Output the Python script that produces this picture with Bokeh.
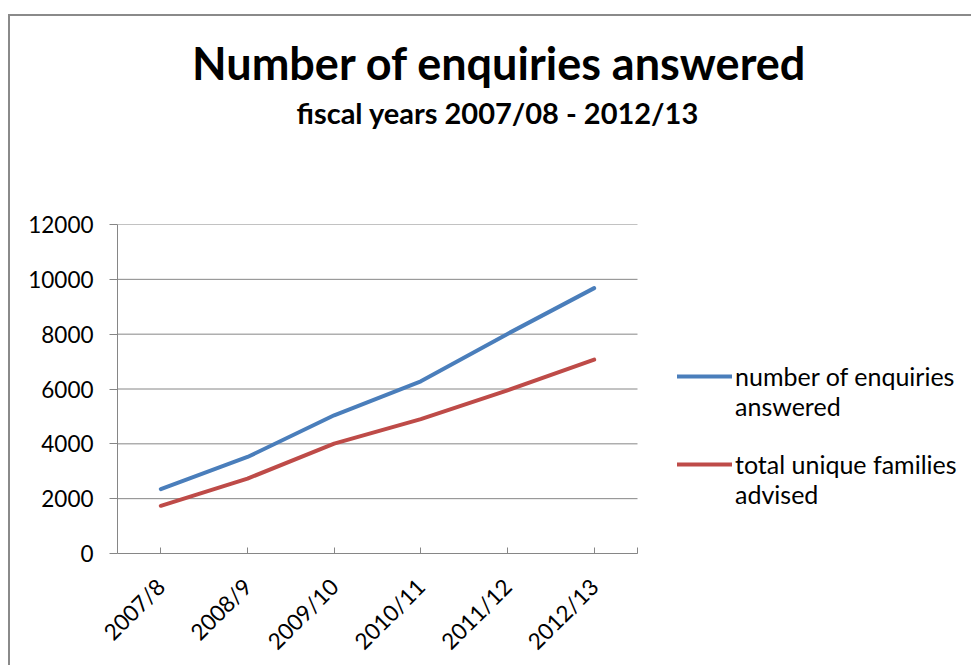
from math import pi
from bokeh.plotting import figure
from bokeh.models import Legend, LegendItem, Title, FixedTicker, Range1d
from bokeh.embed import file_html
from bokeh.resources import INLINE

categories = ["2007/8", "2008/9", "2009/10", "2010/11", "2011/12", "2012/13"]
enquiries = [2350, 3520, 5040, 6280, 8010, 9680]
families = [1740, 2730, 4010, 4900, 5950, 7070]
y_ticks = [0, 2000, 4000, 6000, 8000, 10000, 12000]
title_text = "Number of enquiries answered"
subtitle_text = "fiscal years 2007/08 - 2012/13"
legend_lines = [["number of enquiries", "answered"], ["total unique families", "advised"]]

FONT = "Lato"
GRID = "#868686"
BLUE = "#4A7EBB"
RED = "#BE4B48"

# layout sizes (pixels)
FIG_W, FIG_H = 963, 651
LEFT, TOP, BOTTOM = 107, 208, 114
PLOT_W = 520                     # width of the category area
FRAME_W = FIG_W - LEFT           # frame also holds the legend area
n = len(categories)
x_end = n * FRAME_W / PLOT_W

xpos = [i + 0.5 for i in range(n)]

p = figure(x_range=Range1d(0, x_end), y_range=Range1d(0, 12000),
           width=FIG_W, height=FIG_H, output_backend="svg", toolbar_location=None,
           min_border_left=LEFT, min_border_right=0, min_border_top=TOP,
           min_border_bottom=BOTTOM)
p.margin = (16, 0, 0, 10)
p.styles = {"box-shadow": "-2px -2px 0 0 #8a8a8a"}
p.outline_line_color = None
p.grid.grid_line_color = None

# horizontal gridlines across the category area only
p.segment(x0=[0] * len(y_ticks), x1=[n] * len(y_ticks), y0=y_ticks, y1=y_ticks,
          line_color=GRID, line_width=1)

r1 = p.line(xpos, enquiries, line_color=BLUE, line_width=4,
            line_join="round", line_cap="round")
r2 = p.line(xpos, families, line_color=RED, line_width=4,
            line_join="round", line_cap="round")
dummy = p.line(xpos[:1], [0], line_alpha=0)

p.yaxis.ticker = FixedTicker(ticks=y_ticks)
x_ticks = xpos + [n]
p.xaxis.ticker = FixedTicker(ticks=x_ticks)
overrides = {t: c for t, c in zip(xpos, categories)}
overrides[n] = ""
p.xaxis.major_label_overrides = overrides
p.xaxis.bounds = (0, n)

for ax in (p.xaxis[0], p.yaxis[0]):
    ax.axis_line_color = GRID
    ax.major_tick_line_color = GRID
    ax.minor_tick_line_color = None
    ax.major_label_text_font = FONT
    ax.major_label_text_color = "black"

p.yaxis.major_tick_out = 8
p.yaxis.major_tick_in = 0
p.yaxis.major_label_text_font_size = "22.5px"
p.yaxis.major_label_standoff = 16

p.xaxis.major_tick_out = 0
p.xaxis.major_tick_in = 6
p.xaxis.major_label_orientation = pi / 4
p.xaxis.major_label_text_font_size = "22.5px"
p.xaxis.major_label_standoff = 29

items = [
    LegendItem(label=legend_lines[0][0], renderers=[r1]),
    LegendItem(label=legend_lines[0][1], renderers=[dummy]),
    LegendItem(label=" ", renderers=[dummy]),
    LegendItem(label=legend_lines[1][0], renderers=[r2]),
    LegendItem(label=legend_lines[1][1], renderers=[dummy]),
]
legend = Legend(items=items, location=(PLOT_W + 40, 44), orientation="vertical", ncols=1,
                spacing=0, padding=0, margin=0, glyph_width=55, glyph_height=28,
                label_height=28, label_standoff=3, border_line_color=None,
                background_fill_alpha=0, label_text_font=FONT,
                label_text_font_size="25px", label_text_line_height=1.0,
                label_text_color="black")
p.add_layout(legend, "center")

# titles stack upward from the plot frame: spacer, subtitle, main title
spacer = Title(text=" ", text_font=FONT, text_font_size="10px", standoff=76,
               vertical_align="top")
sub = Title(text=subtitle_text, align="left", offset=179, vertical_align="top",
            standoff=6, text_font=FONT, text_font_style="bold",
            text_font_size="29px", text_color="black")
main = Title(text=title_text, align="left", offset=74.5, vertical_align="top",
             standoff=0, text_font=FONT, text_font_style="bold",
             text_font_size="45px", text_color="black")
p.add_layout(spacer, "above")
p.add_layout(sub, "above")
p.add_layout(main, "above")

open("out.html", "w").write(file_html(p, INLINE))
